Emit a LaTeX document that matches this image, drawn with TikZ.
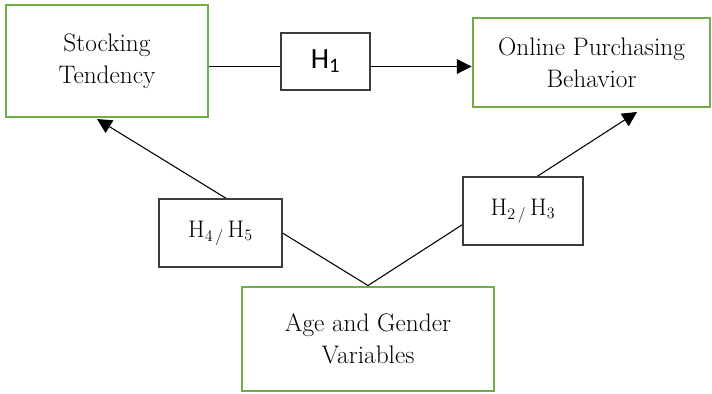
\documentclass[tikz,border=0pt]{standalone}
\usepackage{fontspec}
\newfontfamily\hfont{Carlito}
\usetikzlibrary{arrows.meta}
\definecolor{boxgreen}{RGB}{112,173,71}
\definecolor{boxgray}{RGB}{60,60,60}
\tikzset{
  gbox/.style={draw=boxgreen, line width=2.2pt, fill=white, align=center, inner sep=0pt,
    font=\fontsize{19}{24}\selectfont},
  hbox/.style={draw=boxgray, line width=1pt, fill=white, align=center, inner sep=0pt},
  conn/.style={line width=0.8pt, black},
  arr/.style={conn, -{Triangle[length=11pt,width=11pt]}}
}
\begin{document}
\begin{tikzpicture}[x=0.75pt,y=-0.75pt]
\useasboundingbox (0,0) rectangle (712,393);
\node[gbox, minimum width=151.5pt, minimum height=84pt] (st) at (107,61) {Stocking\\Tendency};
\node[gbox, minimum width=177.75pt, minimum height=66.75pt] (op) at (591.5,62.5) {Online Purchasing\\Behavior};
\node[gbox, minimum width=189pt, minimum height=78pt] (age) at (368,339) {Age and Gender\\Variables};
\coordinate (tipL) at (97,119);
\coordinate (tipR) at (637,112);
\coordinate (lvl) at (0,66.5);
\draw[arr] (age.north) -- (tipL);
\draw[arr] (age.north) -- (tipR);
\node[hbox, minimum width=92.25pt, minimum height=51pt, font=\fontsize{18}{20}\selectfont] (h45) at (220.5,233) {$\mathrm{H}_{4\,/}\,\mathrm{H}_{5}$};
\node[hbox, minimum width=90pt, minimum height=51pt, font=\fontsize{18}{20}\selectfont] (h23) at (523,211) {$\mathrm{H}_{2\,/}\,\mathrm{H}_{3}$};
\node[hbox, minimum width=66.75pt, minimum height=42.75pt, font=\hfont\fontsize{22}{24}\selectfont] (h1) at (325.5,61.5) {H\textsubscript{1}};
\draw[conn] (st.east |- lvl) -- (h1.west |- lvl);
\draw[arr] (h1.east |- lvl) -- (op.west |- lvl);
\end{tikzpicture}
\end{document}
